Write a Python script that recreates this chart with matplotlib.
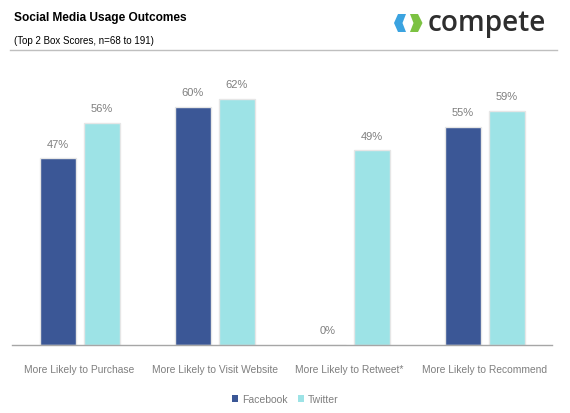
import matplotlib
matplotlib.use("Agg")
import matplotlib.pyplot as plt
import numpy as np
from matplotlib.patches import Polygon, Patch
from matplotlib.lines import Line2D

categories = ["More Likely to Purchase", "More Likely to Visit Website",
              "More Likely to Retweet*", "More Likely to Recommend"]
facebook = [47, 60, 0, 55]
twitter = [56, 62, 49, 59]
series_names = ["Facebook", "Twitter"]

fb_color = "#3B5796"
tw_color = "#9DE3E6"
txt_grey = "#7F7F7F"

plt.rcParams['font.family'] = ['Liberation Sans', 'DejaVu Sans']

W, H = 570, 414
fig = plt.figure(figsize=(W/100, H/100), dpi=100)

ax = fig.add_axes([12/W, 1-346/H, 540/W, 278/H])
x = np.arange(len(categories))
bw = 36/135
off = 22/135
b1 = ax.bar(x - off, facebook, bw, color=fb_color, edgecolor="#E6E6E6", linewidth=1.0, label=series_names[0], zorder=2)
b2 = ax.bar(x + off, twitter, bw, color=tw_color, edgecolor="#E6E6E6", linewidth=1.0, label=series_names[1], zorder=2)
for bars, vals in ((b1, facebook), (b2, twitter)):
    for r, v in zip(bars, vals):
        ax.annotate(f"{v}%", (r.get_x() + r.get_width()/2, v), xytext=(0, 7),
                    textcoords="offset points", ha="center", va="bottom",
                    fontsize=8, color=txt_grey)

ax.set_xlim(-0.5, 3.5)
ax.set_ylim(0, 70)
ax.set_yticks([])
ax.set_xticks(x)
ax.set_xticklabels(categories, fontsize=7.4, color=txt_grey)
ax.tick_params(axis='x', length=0, pad=14)
for s in ["top", "right", "left"]:
    ax.spines[s].set_visible(False)
ax.spines["bottom"].set_color("#A6A6A6")
ax.spines["bottom"].set_linewidth(1.0)

handles = [Patch(facecolor=fb_color, edgecolor="none"), Patch(facecolor=tw_color, edgecolor="none")]
leg = fig.legend(handles=handles, labels=series_names, loc="center",
                 bbox_to_anchor=(0.5, 1-400/H), ncol=2, frameon=False,
                 fontsize=7.5, handlelength=0.6, handleheight=0.6,
                 handletextpad=0.35, columnspacing=1.0)
for t in leg.get_texts():
    t.set_color(txt_grey)

# Header
fig.text(14/W, 1-18/H, "Social Media Usage Outcomes", fontsize=8.6, fontweight="bold",
         color="black", va="center", ha="left")
fig.text(14/W, 1-41/H, "(Top 2 Box Scores, n=68 to 191)", fontsize=7,
         color="black", va="center", ha="left")
fig.add_artist(Line2D([10/W, 557/W], [1-51/H, 1-51/H], color="#BFBFBF", lw=1.0))

# Logo
def fp(px, py):
    return (px/W, 1-py/H)
blue = [fp(398, 15), fp(406, 15), fp(402.5, 24), fp(406, 33), fp(398, 33), fp(394, 24)]
green = [fp(410, 15), fp(418, 15), fp(422.5, 24), fp(418, 33), fp(410, 33), fp(413.5, 24)]
fig.add_artist(Polygon(blue, closed=True, facecolor="#3BA3E0", edgecolor="none", transform=fig.transFigure))
fig.add_artist(Polygon(green, closed=True, facecolor="#7CC242", edgecolor="none", transform=fig.transFigure))
fig.text(428/W, 1-24/H, "compete", fontsize=20.2, color="#2E2E2E", va="center", ha="left",
         fontweight="semibold", family=["Open Sans", "DejaVu Sans"])

fig.savefig("out.png", dpi=100, facecolor="white")
